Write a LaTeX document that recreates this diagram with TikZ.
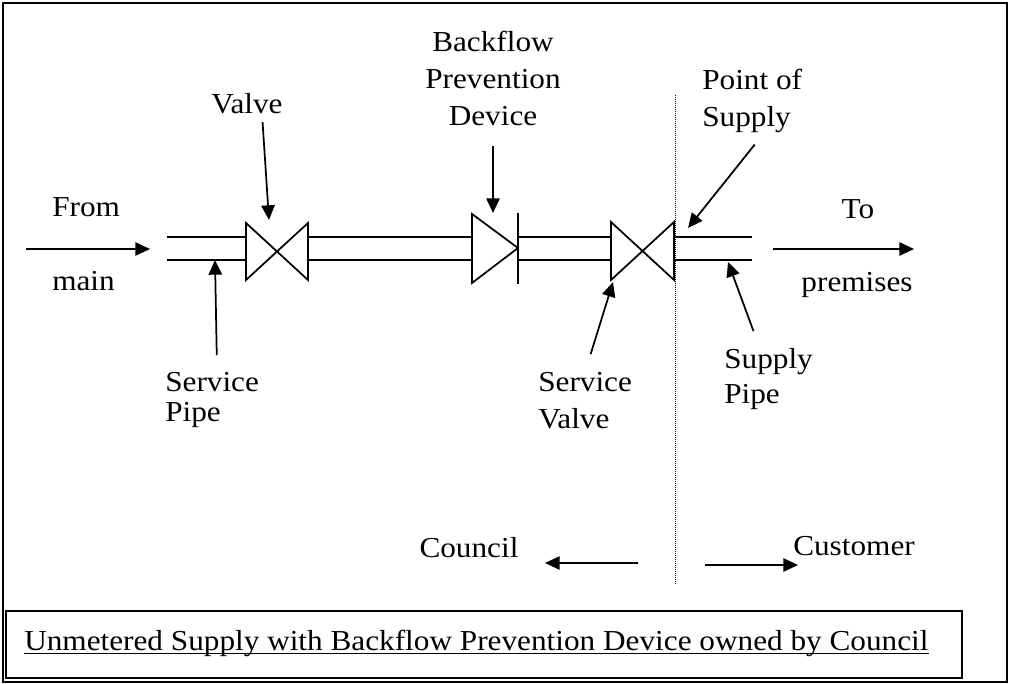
\documentclass[tikz,border=0pt]{standalone}
\usepackage{fontspec}
\setmainfont{Liberation Serif}[FakeStretch=1.08]
\usetikzlibrary{arrows.meta}
\tikzstyle{tag} = [inner sep=0pt, align=left, font=\fontsize{21.7}{27.75}\selectfont]
\tikzstyle{pipe} = [line width=1.5pt]
\tikzstyle{fitting} = [line width=1.3pt, line join=miter]
\tikzstyle{arrow} = [line width=1.3pt, -{Triangle[length=11pt,width=10pt]}]
\tikzstyle{boundary} = [line width=0.75pt, dash pattern=on 0.75pt off 0.75pt]
\tikzstyle{frame} = [line width=1.5pt]

\begin{document}
\begin{tikzpicture}[x=0.75pt, y=-0.75pt]
	\useasboundingbox (0,0) rectangle (1009,684);
	\draw[frame] (3,3) rectangle (1007,682);
	\draw[frame] (6,611) rectangle (962,678);

	\draw[pipe] (167,237) -- (246,237) (167,260) -- (246,260);
	\draw[fitting] (246,223) -- (246,280) -- (308,223) -- (308,280) -- cycle;
	\draw[pipe] (308,237) -- (472,237) (308,260) -- (472,260);
	\draw[fitting] (472,214) -- (518,248) -- (472,283) -- cycle;
	\draw[fitting] (518,213) -- (518,284);
	\draw[pipe] (518,237) -- (611,237) (518,260) -- (611,260);
	\draw[fitting] (611,222) -- (611,280) -- (674,222) -- (674,280) -- cycle;
	\draw[pipe] (674,237) -- (752,237) (674,260) -- (752,260);

	\draw[boundary] (675,95) -- (675,585);

	\coordinate (mainin) at (26,249);
	\coordinate (pipein) at (150,249);
	\coordinate (pipeout) at (773,249);
	\coordinate (premisesin) at (914,249);
	\coordinate (valvetip) at (269,220);
	\coordinate (bpdtip) at (493,213);
	\coordinate (postip) at (688,228);
	\coordinate (servpipetip) at (215,260);
	\coordinate (servvalvetip) at (613,282);
	\coordinate (supplypipetip) at (728,262);
	\coordinate (councilfrom) at (638,563);
	\coordinate (councilto) at (545,563);
	\coordinate (customerfrom) at (705,565);
	\coordinate (customerto) at (798,565);

	\node (fromtag) [tag, anchor=base west] at (52,217) {From};
	\node (maintag) [tag, anchor=base west] at (52,290) {main};
	\node (totag) [tag, anchor=base] at (858,219) {To};
	\node (premisestag) [tag, anchor=base] at (857,291) {premises};

	\node (valvetag) [tag, anchor=north] at (247,93) {Valve};
	\node (bpdtag) [tag, align=center, anchor=north] at (493,31) {Backflow\\Prevention\\Device};
	\node (postag) [tag, anchor=north west] at (702,69) {Point of\\Supply};
	\node (servpipetag) [tag, anchor=north west] at (165,372) {Service\\[-5pt]Pipe};
	\node (servvalvetag) [tag, anchor=north west] at (538,372) {Service\\Valve};
	\node (supplypipetag) [tag, anchor=north west] at (724,348) {Supply\\[-1.5pt]Pipe};

	\draw[arrow] (mainin) -- (pipein);
	\draw[arrow] (pipeout) -- (premisesin);
	\draw[arrow, shorten <=6pt] (valvetag.-35) -- (valvetip);
	\draw[arrow, shorten <=15pt] (bpdtag.south) -- (bpdtip);
	\draw[arrow, shorten <=11pt] (postag.-70) -- (postip);
	\draw[arrow, shorten <=12.75pt] (servpipetag.80) -- (servpipetip);
	\draw[arrow, shorten <=14pt] (servvalvetag.north) -- (servvalvetip);
	\draw[arrow, shorten <=13.5pt] (supplypipetag.106) -- (supplypipetip);

	\node (counciltag) [tag, anchor=base] at (469,557) {Council};
	\node (customertag) [tag, anchor=base west] at (793,555) {Customer};
	\draw[arrow] (councilfrom) -- (councilto);
	\draw[arrow] (customerfrom) -- (customerto);

	\node (caption) [tag, anchor=base west] at (24,650) {Unmetered Supply with Backflow Prevention Device owned by Council};
	\draw[line width=1.1pt] ([yshift=-2.5pt]caption.base west) -- ([yshift=-2.5pt]caption.base east);
\end{tikzpicture}
\end{document}
